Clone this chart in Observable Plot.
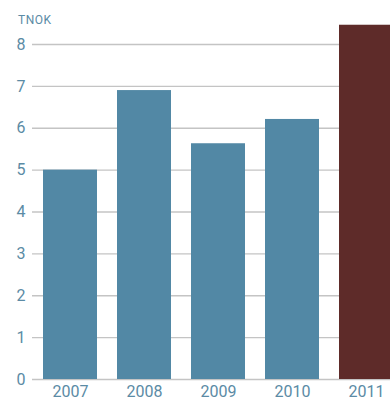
<!DOCTYPE html>
<html><head><meta charset="utf-8">
<script src="https://cdn.jsdelivr.net/npm/d3@7"></script>
<script src="https://cdn.jsdelivr.net/npm/@observablehq/plot@0.6"></script>
<style>
html,body{margin:0;padding:0;background:#fff;overflow:hidden}
#wrap{position:relative;width:390px;height:400px;overflow:hidden}
#unit{position:absolute;left:18px;top:13px;font:400 12px Roboto,sans-serif;color:#5b8ba5;letter-spacing:0.5px}
</style></head><body>
<div id="wrap"><div id="unit">TNOK</div></div>
<script>
const years = ["2007", "2008", "2009", "2010", "2011"];
const values = [5.0, 6.9, 5.63, 6.21, 8.46];
const groups = ["past", "past", "past", "past", "current"];
const yTicks = [0, 1, 2, 3, 4, 5, 6, 7, 8];
const data = years.map((year, i) => ({year, value: values[i], group: groups[i]}));

const chart = Plot.plot({
  width: 390, height: 400,
  marginLeft: 32, marginRight: 0, marginTop: 44, marginBottom: 21,
  style: {fontFamily: "Roboto, sans-serif", fontSize: "16px", color: "#5b8ba5", background: "white"},
  x: {domain: years, range: [32, 404], paddingInner: 0.275, paddingOuter: 0.134},
  y: {domain: [0, 8]},
  color: {domain: ["past", "current"], range: ["#5288a5", "#5e2b29"]},
  marks: [
    Plot.gridY(yTicks, {stroke: "#c4c4c4", strokeOpacity: 1, strokeWidth: 1.3}),
    Plot.barY(data, {x: "year", y: "value", fill: "group"}),
    Plot.axisY(yTicks, {tickSize: 0, tickPadding: 7, fontWeight: 400, label: null}),
    Plot.axisX({tickSize: 0, tickPadding: 6, fontWeight: 400, label: null})
  ]
});
document.getElementById("wrap").appendChild(chart);
</script>
</body></html>
